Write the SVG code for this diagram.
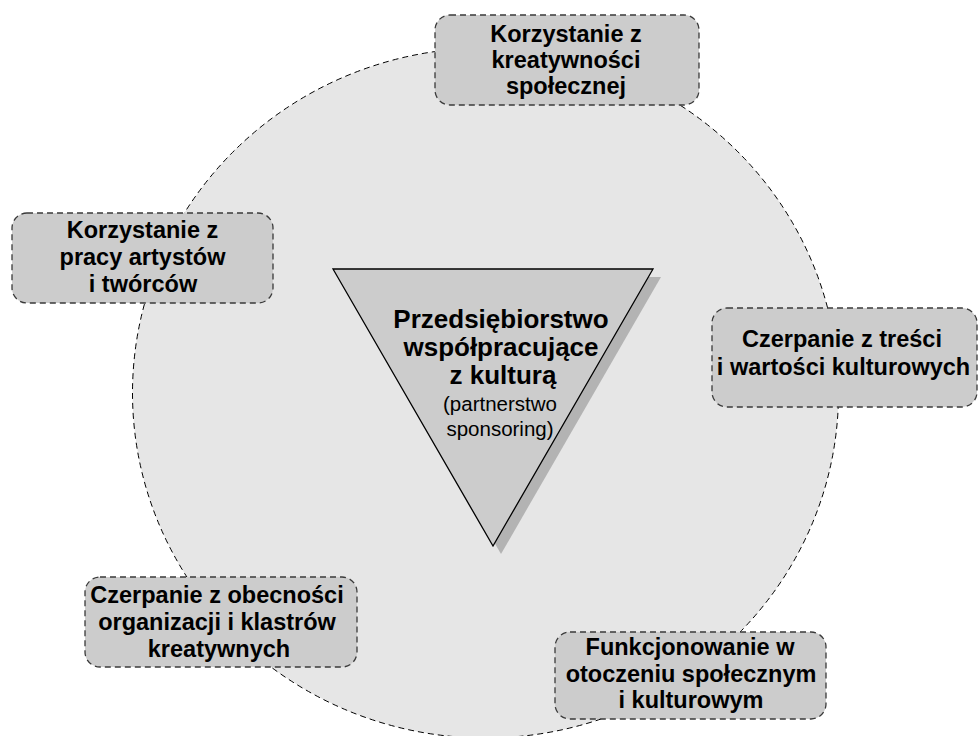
<svg xmlns="http://www.w3.org/2000/svg" width="978" height="736" viewBox="0 0 978 736">
<style>
.box{fill:#cccccc;stroke:#3a3a3a;stroke-width:1.3;stroke-dasharray:6 4}
.bt{font-family:"Liberation Sans",Arial,sans-serif;font-weight:bold;font-size:23.5px;fill:#000;text-anchor:middle}
.ct{font-family:"Liberation Sans",Arial,sans-serif;font-weight:bold;font-size:26px;fill:#000;text-anchor:middle}
.rt{font-family:"Liberation Sans",Arial,sans-serif;font-size:20.5px;fill:#000;text-anchor:middle}
</style>
<rect width="978" height="736" fill="#ffffff"/>
<g id="circle">
<ellipse cx="485.5" cy="393" rx="353" ry="345" fill="#e6e6e6" stroke="#000" stroke-width="1" stroke-dasharray="6 4"/>
</g>
<g id="center">
<polygon points="341,277 661,277 501,554" fill="#b3b3b3"/>
<polygon points="333,269 653,269 493,546" fill="#cccccc" stroke="#000" stroke-width="1.3"/>
<text class="ct" x="501" y="328">Przedsiębiorstwo</text>
<text class="ct" x="501" y="356">współpracujące</text>
<text class="ct" x="503" y="384">z kulturą</text>
<text class="rt" x="500" y="411">(partnerstwo</text>
<text class="rt" x="500" y="436">sponsoring)</text>
</g>
<g id="connectors"></g>
<g id="n1">
<rect class="box" x="435" y="15" width="264" height="90" rx="15"/>
<text class="bt" x="566" y="42">Korzystanie z</text>
<text class="bt" x="566" y="68">kreatywności</text>
<text class="bt" x="566" y="94">społecznej</text>
</g>
<g id="n2">
<rect class="box" x="12" y="213" width="261" height="90" rx="15"/>
<text class="bt" x="142.5" y="238">Korzystanie z</text>
<text class="bt" x="142.5" y="265">pracy artystów</text>
<text class="bt" x="143" y="292">i twórców</text>
</g>
<g id="n3">
<rect class="box" x="712" y="308" width="265" height="99" rx="15"/>
<text class="bt" x="842" y="347">Czerpanie z treści</text>
<text class="bt" x="843.5" y="375">i wartości kulturowych</text>
</g>
<g id="n4">
<rect class="box" x="85" y="577" width="272" height="90" rx="15"/>
<text class="bt" x="217" y="603">Czerpanie z obecności</text>
<text class="bt" x="217" y="630">organizacji i klastrów</text>
<text class="bt" x="219" y="657">kreatywnych</text>
</g>
<g id="n5">
<rect class="box" x="555" y="632" width="271" height="87" rx="15"/>
<text class="bt" x="690" y="655">Funkcjonowanie w</text>
<text class="bt" x="691" y="682">otoczeniu społecznym</text>
<text class="bt" x="691" y="708">i kulturowym</text>
</g>
</svg>
